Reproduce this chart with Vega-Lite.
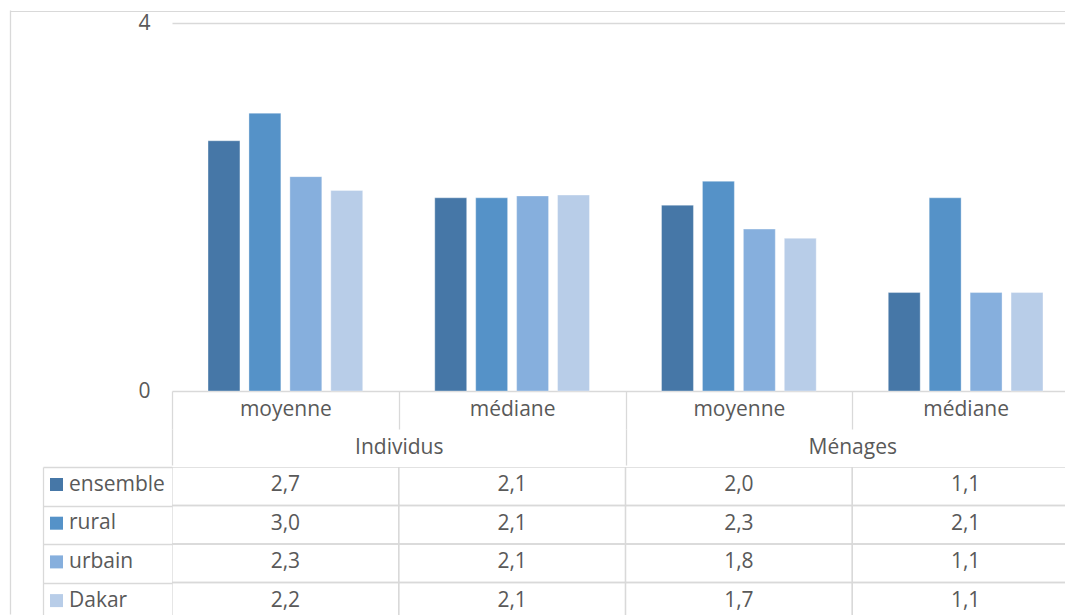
{
  "$schema": "https://vega.github.io/schema/vega-lite/v6.json",
  "background": "white",
  "padding": {"left": 9, "top": 10, "right": 0, "bottom": 0},
  "spacing": 0,
  "config": {"view": {"stroke": null}, "font": "Open Sans"},
  "datasets": {
    "d": [
      {"grp": "Individus", "col": "Individus|moyenne", "series": "ensemble", "value": 2.72, "label": "2,7"},
      {"grp": "Individus", "col": "Individus|moyenne", "series": "rural", "value": 3.02, "label": "3,0"},
      {"grp": "Individus", "col": "Individus|moyenne", "series": "urbain", "value": 2.33, "label": "2,3"},
      {"grp": "Individus", "col": "Individus|moyenne", "series": "Dakar", "value": 2.18, "label": "2,2"},
      {"grp": "Individus", "col": "Individus|médiane", "series": "ensemble", "value": 2.10, "label": "2,1"},
      {"grp": "Individus", "col": "Individus|médiane", "series": "rural", "value": 2.10, "label": "2,1"},
      {"grp": "Individus", "col": "Individus|médiane", "series": "urbain", "value": 2.12, "label": "2,1"},
      {"grp": "Individus", "col": "Individus|médiane", "series": "Dakar", "value": 2.13, "label": "2,1"},
      {"grp": "Ménages", "col": "Ménages|moyenne", "series": "ensemble", "value": 2.02, "label": "2,0"},
      {"grp": "Ménages", "col": "Ménages|moyenne", "series": "rural", "value": 2.28, "label": "2,3"},
      {"grp": "Ménages", "col": "Ménages|moyenne", "series": "urbain", "value": 1.76, "label": "1,8"},
      {"grp": "Ménages", "col": "Ménages|moyenne", "series": "Dakar", "value": 1.66, "label": "1,7"},
      {"grp": "Ménages", "col": "Ménages|médiane", "series": "ensemble", "value": 1.07, "label": "1,1"},
      {"grp": "Ménages", "col": "Ménages|médiane", "series": "rural", "value": 2.10, "label": "2,1"},
      {"grp": "Ménages", "col": "Ménages|médiane", "series": "urbain", "value": 1.07, "label": "1,1"},
      {"grp": "Ménages", "col": "Ménages|médiane", "series": "Dakar", "value": 1.07, "label": "1,1"}
    ]
  },
  "vconcat": [
    {
      "width": 1056, "height": 0.01,
      "view": {"stroke": "#D9D9D9", "strokeWidth": 1},
      "data": {"values": [{}]},
      "mark": {"type": "point", "size": 0, "opacity": 0}
    },
    {
      "spacing": 31,
      "hconcat": [
        {
          "width": 0.01, "height": 591,
          "data": {"values": [{}]},
          "mark": {"type": "point", "size": 0, "opacity": 0},
          "encoding": {
            "y": {
              "datum": 0, "type": "quantitative",
              "scale": {"domain": [0, 1], "range": [591, -13]},
              "axis": {
                "orient": "left", "title": null, "labels": false, "ticks": false, "grid": false,
                "domain": true, "domainColor": "#D9D9D9", "domainWidth": 1.3, "minExtent": 0
              }
            }
          }
        },
        {
          "spacing": 0,
          "vconcat": [
            {
              "data": {"name": "d"},
              "width": 895, "height": 368,
              "layer": [
                {
                  "mark": {"type": "bar", "stroke": "white", "strokeWidth": 0.7, "strokeOpacity": 0.5},
                  "encoding": {
                    "x": {
                      "field": "col", "type": "nominal",
                      "sort": ["Individus|moyenne", "Individus|médiane", "Ménages|moyenne", "Ménages|médiane"],
                      "scale": {"range": [0, 907], "paddingInner": 0, "paddingOuter": 0},
                      "axis": {
                        "title": null, "orient": "bottom", "labelExpr": "split(datum.value, '|')[1]",
                        "domain": false, "ticks": true, "tickBand": "extent", "tickSize": 38,
                        "tickColor": "#D9D9D9", "tickWidth": 1.3,
                        "labelPadding": -20, "labelBaseline": "middle", "labelAngle": 0,
                        "labelFontSize": 21, "labelColor": "#595959", "labelFont": "Open Sans"
                      }
                    },
                    "xOffset": {
                      "field": "series", "type": "nominal",
                      "sort": ["ensemble", "rural", "urbain", "Dakar"],
                      "scale": {"paddingInner": 0.22, "paddingOuter": 0.88}
                    },
                    "y": {
                      "field": "value", "type": "quantitative",
                      "scale": {"domain": [0, 4], "nice": false},
                      "axis": {
                        "values": [0, 4], "title": null, "domain": false, "ticks": false,
                        "grid": true, "gridColor": "#D9D9D9", "gridWidth": 1.3,
                        "labelPadding": 22, "labelFontSize": 21, "labelColor": "#595959",
                        "labelFont": "Open Sans", "minExtent": 129, "labelFlush": false
                      }
                    },
                    "color": {
                      "field": "series", "type": "nominal",
                      "sort": ["ensemble", "rural", "urbain", "Dakar"],
                      "scale": {
                        "domain": ["ensemble", "rural", "urbain", "Dakar"],
                        "range": ["#4677A7", "#5592C8", "#86AFDD", "#B8CDE8"]
                      },
                      "legend": {
                        "orient": "none", "legendX": 36, "legendY": 463,
                        "title": null, "symbolType": "square", "symbolSize": 169,
                        "symbolStrokeWidth": 0, "labelFontSize": 21, "labelColor": "#595959",
                        "labelFont": "Open Sans", "labelOffset": 2, "rowPadding": 16.7, "padding": 0
                      }
                    }
                  }
                },
                {
                  "mark": {"type": "point", "opacity": 0},
                  "encoding": {
                    "x": {
                      "field": "grp", "type": "nominal", "sort": ["Individus", "Ménages"],
                      "scale": {"range": [0, 907], "paddingInner": 0, "paddingOuter": 0},
                      "axis": {
                        "title": null, "orient": "bottom", "offset": 38, "domain": false, "ticks": true,
                        "tickBand": "extent", "tickSize": 36, "tickColor": "#D9D9D9", "tickWidth": 1.3,
                        "labelPadding": -18, "labelBaseline": "middle", "labelAngle": 0,
                        "labelFontSize": 21, "labelColor": "#595959", "labelFont": "Open Sans"
                      }
                    }
                  }
                }
              ],
              "resolve": {"scale": {"x": "independent"}}
            },
            {
              "data": {"name": "d"},
              "width": 895, "height": 154,
              "layer": [
                {
                  "mark": {"type": "rect", "fill": "transparent", "stroke": "#D9D9D9", "strokeWidth": 1.3, "clip": true},
                  "encoding": {
                    "x": {
                      "field": "col", "type": "nominal",
                      "sort": ["Individus|moyenne", "Individus|médiane", "Ménages|moyenne", "Ménages|médiane"],
                      "scale": {"range": [0, 907], "paddingInner": 0, "paddingOuter": 0},
                      "axis": null
                    },
                    "y": {
                      "field": "series", "type": "nominal",
                      "sort": ["ensemble", "rural", "urbain", "Dakar"],
                      "scale": {"paddingInner": 0, "paddingOuter": 0},
                      "axis": {
                        "title": null, "orient": "left", "offset": 0, "labels": false,
                        "domain": false, "ticks": true, "tickBand": "extent", "tickSize": 129,
                        "tickColor": "#D9D9D9", "tickWidth": 1.3, "minExtent": 0
                      }
                    }
                  }
                },
                {
                  "mark": {"type": "text", "fontSize": 21, "color": "#595959", "font": "Open Sans", "clip": true, "dy": -1},
                  "encoding": {
                    "x": {
                      "field": "col", "type": "nominal",
                      "sort": ["Individus|moyenne", "Individus|médiane", "Ménages|moyenne", "Ménages|médiane"],
                      "scale": {"range": [0, 907], "paddingInner": 0, "paddingOuter": 0},
                      "axis": null
                    },
                    "y": {
                      "field": "series", "type": "nominal",
                      "sort": ["ensemble", "rural", "urbain", "Dakar"],
                      "scale": {"paddingInner": 0, "paddingOuter": 0},
                      "axis": {
                        "title": null, "orient": "left", "offset": 129, "labels": false,
                        "domain": true, "domainColor": "#D9D9D9", "domainWidth": 1.3,
                        "ticks": false, "minExtent": 0
                      }
                    },
                    "text": {"field": "label"}
                  }
                }
              ],
              "resolve": {"scale": {"y": "independent"}}
            }
          ]
        }
      ]
    }
  ]
}
